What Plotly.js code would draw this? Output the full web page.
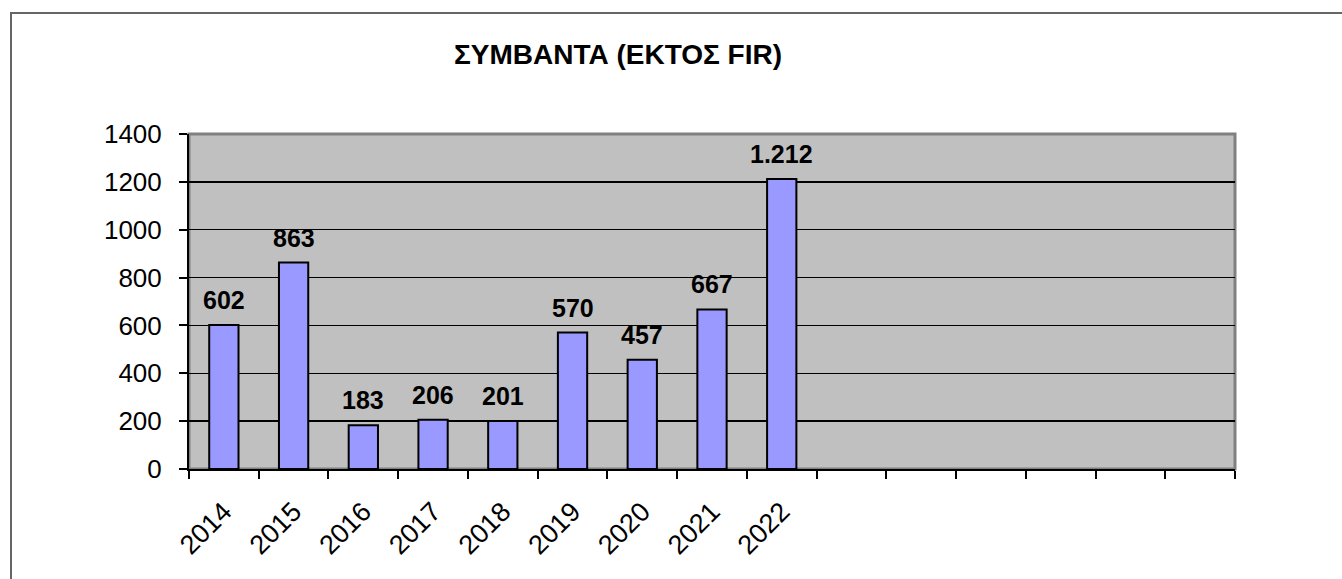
<!DOCTYPE html>
<html>
<head>
<meta charset="utf-8">
<script src="https://cdn.plot.ly/plotly-3.0.1.min.js"></script>
<style>
  html, body { margin: 0; padding: 0; background: #fff; }
  #wrap { position: relative; width: 1342px; height: 579px; overflow: hidden; }
  #frame { position: absolute; left: 10px; top: 12px; width: 1400px; height: 700px;
           border-left: 2px solid #666; border-top: 2px solid #666; pointer-events: none; }
  #chart { position: absolute; left: 0; top: 0; width: 1342px; height: 579px; }
</style>
</head>
<body>
<div id="wrap">
  <div id="chart"></div>
  <div id="frame"></div>
</div>
<script>
const titleText = 'ΣΥΜΒΑΝΤΑ (ΕΚΤΟΣ FIR)';
const years = ['2014', '2015', '2016', '2017', '2018', '2019', '2020', '2021', '2022'];
const values = [602, 863, 183, 206, 201, 570, 457, 667, 1212];
// empty category slots shown on the axis after the last year
const emptySlots = [' ', '  ', '   ', '    ', '     ', '      '];
const yTicks = [0, 200, 400, 600, 800, 1000, 1200, 1400];

const FONT = 'Arial, "Liberation Sans", sans-serif';

function fmtGreek(v) {
  // thousands separator is a dot, as in the original
  return String(v).replace(/\B(?=(\d{3})+(?!\d))/g, '.');
}

const trace = {
  type: 'bar',
  x: years,
  y: values,
  marker: { color: '#9999FF', line: { color: '#000000', width: 2 } },
  hoverinfo: 'x+y'
};

// value labels: category index on the category axis, value on the y axis
const annotations = values.map((v, i) => ({
  x: i, y: v, xref: 'x', yref: 'y',
  text: '<b>' + fmtGreek(v) + '</b>',
  showarrow: false, xanchor: 'center', yanchor: 'bottom', yshift: 9,
  font: { family: FONT, size: 25, color: '#000' }
}));

const layout = {
  width: 1342, height: 579,
  margin: { l: 189, r: 107, t: 134, b: 110, pad: 0 },
  paper_bgcolor: 'rgba(0,0,0,0)',
  plot_bgcolor: '#C0C0C0',
  showlegend: false,
  bargap: 0.58,
  font: { family: FONT, color: '#000' },
  title: {
    text: '<b>' + titleText + '</b>',
    x: 618 / 1342, xanchor: 'center', xref: 'container',
    y: 1 - 54 / 579, yanchor: 'middle', yref: 'container',
    font: { family: FONT, size: 28, color: '#000' }
  },
  xaxis: {
    type: 'category',
    categoryorder: 'array',
    categoryarray: years.concat(emptySlots),
    range: [-0.5, years.length + emptySlots.length - 0.5],
    tickson: 'boundaries',
    ticks: 'outside', ticklen: 8, tickwidth: 2, tickcolor: '#000',
    showline: true, linecolor: '#000', linewidth: 2,
    showgrid: false, zeroline: false,
    tickangle: -45,
    ticklabelstandoff: 14,
    ticklabelshift: 0,
    tickfont: { family: FONT, size: 27, color: '#000' },
    fixedrange: true
  },
  yaxis: {
    range: [0, 1400],
    tickmode: 'array', tickvals: yTicks, ticktext: yTicks.map(String),
    ticks: 'outside', ticklen: 8, tickwidth: 2, tickcolor: '#000',
    showline: true, linecolor: '#000', linewidth: 2,
    showgrid: true, gridcolor: '#000', gridwidth: 1.5,
    zeroline: false,
    ticklabelstandoff: 12,
    tickfont: { family: FONT, size: 26, color: '#000' },
    fixedrange: true
  },
  shapes: [{
    type: 'rect', xref: 'paper', yref: 'paper', x0: 0, x1: 1, y0: 0, y1: 1,
    line: { color: '#808080', width: 3 }, layer: 'below'
  }],
  annotations: annotations
};

Plotly.newPlot('chart', [trace], layout, { displayModeBar: false, staticPlot: true });
</script>
</body>
</html>
